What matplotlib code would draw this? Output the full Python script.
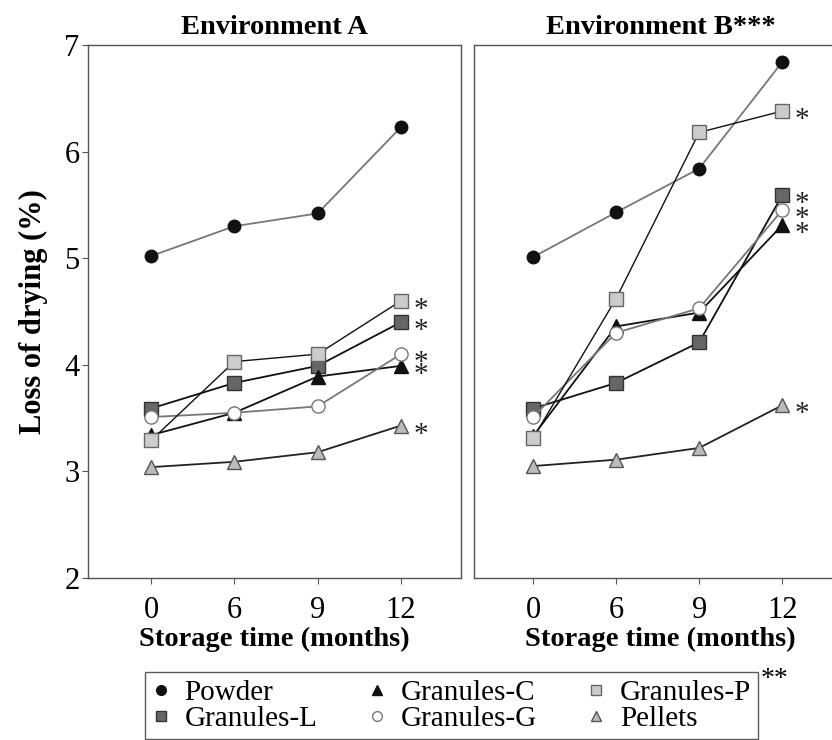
import matplotlib
matplotlib.use("Agg")
import matplotlib.pyplot as plt
from matplotlib.lines import Line2D

plt.rcParams['font.family'] = ['Liberation Serif', 'DejaVu Serif']

months = ["0", "6", "9", "12"]
series = ["Powder", "Granules-L", "Granules-C", "Granules-G", "Granules-P", "Pellets"]

# loss of drying (%)
env_a = {
    "Powder":     [5.02, 5.30, 5.42, 6.23],
    "Granules-L": [3.59, 3.83, 3.99, 4.40],
    "Granules-C": [3.34, 3.55, 3.89, 3.99],
    "Granules-G": [3.51, 3.55, 3.61, 4.10],
    "Granules-P": [3.29, 4.03, 4.10, 4.60],
    "Pellets":    [3.04, 3.09, 3.18, 3.43],
}
env_b = {
    "Powder":     [5.01, 5.43, 5.84, 6.84],
    "Granules-L": [3.59, 3.83, 4.21, 5.59],
    "Granules-C": [3.33, 4.36, 4.49, 5.31],
    "Granules-G": [3.51, 4.30, 4.53, 5.45],
    "Granules-P": [3.31, 4.62, 6.18, 6.38],
    "Pellets":    [3.05, 3.11, 3.22, 3.62],
}
# series flagged with * at 12 months
starred = ["Granules-L", "Granules-C", "Granules-G", "Granules-P", "Pellets"]

style = {
    "Powder":     dict(marker="o", mfc="#111111", mec="#111111", color="#777777", ms=9, lw=1.3),
    "Granules-L": dict(marker="s", mfc="#666666", mec="#333333", color="#111111", ms=9.5, lw=1.3),
    "Granules-C": dict(marker="^", mfc="#111111", mec="#111111", color="#111111", ms=10, lw=1.3),
    "Granules-G": dict(marker="o", mfc="white", mec="#777777", color="#777777", ms=9.5, lw=1.3),
    "Granules-P": dict(marker="s", mfc="#cccccc", mec="#666666", color="#111111", ms=9.5, lw=1.0),
    "Pellets":    dict(marker="^", mfc="#bbbbbb", mec="#555555", color="#222222", ms=10, lw=1.3),
}

fig = plt.figure(figsize=(8.32, 7.40), dpi=100)
ax_a = fig.add_axes([88/832, 1-578/740, (461-88)/832, (578-45)/740])
ax_b = fig.add_axes([474/832, 1-578/740, (847-474)/832, (578-45)/740])

x = list(range(len(months)))
for ax, data, title, xl in [(ax_a, env_a, "Environment A", (-0.756, 3.72)),
                            (ax_b, env_b, "Environment B***", (-0.71, 3.78))]:
    for name in series:
        st = style[name]
        ax.plot(x, data[name], marker=st["marker"], markerfacecolor=st["mfc"],
                markeredgecolor=st["mec"], color=st["color"], markersize=st["ms"],
                linewidth=st["lw"], markeredgewidth=1.0, zorder=3)
    for name in starred:
        ax.annotate("*", (x[-1], data[name][-1]), xytext=(9, -11.5), textcoords="offset points",
                    fontsize=21, ha="left", va="baseline", color="#222222")
    ax.set_xlim(*xl)
    ax.set_ylim(2, 7)
    ax.set_xticks(x)
    ax.set_xticklabels(months)
    ax.set_yticks([2, 3, 4, 5, 6, 7])
    ax.set_title(title, fontsize=20.5, fontweight="bold", pad=8)
    ax.set_xlabel("Storage time (months)", fontsize=20.5, fontweight="bold", labelpad=1)
    for sp in ax.spines.values():
        sp.set_color("#555555")
        sp.set_linewidth(1.0)
    ax.tick_params(axis="both", labelsize=22, color="#555555", length=4, direction="out", pad=2)
    ax.tick_params(axis="x", pad=9)

ax_a.set_ylabel("Loss of drying (%)", fontsize=22, fontweight="bold", labelpad=12)
ax_b.tick_params(axis="y", left=False, labelleft=False)

# legend
order = ["Powder", "Granules-L", "Granules-C", "Granules-G", "Granules-P", "Pellets"]
handles = []
for name in order:
    st = style[name]
    handles.append(Line2D([], [], linestyle="none", marker=st["marker"],
                          markerfacecolor=st["mfc"], markeredgecolor=st["mec"], markersize=7))
leg = fig.legend(handles, order, ncol=3, loc="upper left", bbox_to_anchor=(145/832, 1-672/740),
                 fontsize=21, frameon=True, fancybox=False, edgecolor="#333333",
                 handlelength=0.6, handletextpad=0.5, columnspacing=1.75,
                 labelspacing=0.0, borderpad=0.25, borderaxespad=0)
leg.get_frame().set_linewidth(1.0)
fig.text(775/832, 1-680/740, "**", fontsize=20, ha="center", va="center")

fig.savefig("out.png", dpi=100)
